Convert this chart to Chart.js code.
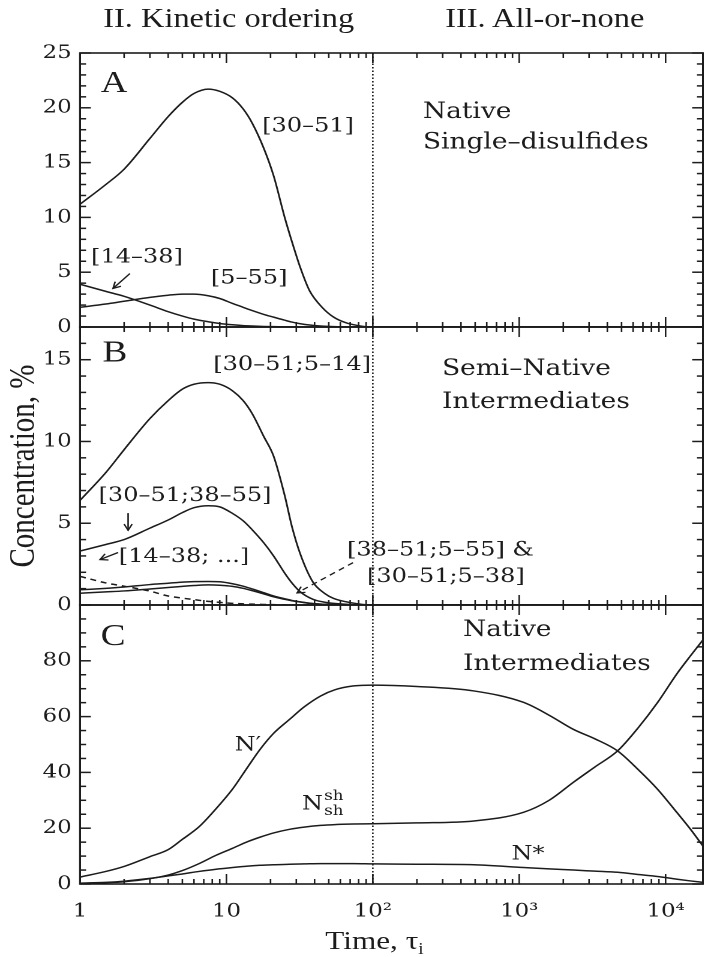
<!DOCTYPE html>
<html>
<head>
<meta charset="utf-8">
<script src="https://cdn.jsdelivr.net/npm/chart.js@4.4.1/dist/chart.umd.min.js"></script>
<style>
  html, body { margin: 0; padding: 0; background: #fff; overflow: hidden; }
  /* the figure is set in a wide face: draw narrow, then stretch horizontally */
  #figure { position: absolute; left: 0; top: 0; width: 587px; height: 957px;
            transform: scaleX(1.2); transform-origin: 0 0;
            font-family: "Liberation Serif", serif; color: #1c1c1c; }
  canvas { position: absolute; left: 0; }
  .head { position: absolute; top: 5px; font-size: 27px; line-height: 27px; white-space: nowrap; }
  #ytitle { position: absolute; left: 19px; top: 466px; font-size: 29px; line-height: 29px;
            white-space: nowrap; transform: translate(-50%, -50%) rotate(-90deg); }
  #xtitle { position: absolute; left: 312px; top: 928px; font-size: 26px; line-height: 26px;
            white-space: nowrap; transform: translateX(-50%); }
  #xtitle span { font-size: 16px; position: relative; top: 5px; }
</style>
</head>
<body>
<div id="figure">
  <div class="head" style="left:86px">II. Kinetic ordering</div>
  <div class="head" style="left:371px">III. All-or-none</div>
  <div id="ytitle">Concentration, %</div>
  <div id="xtitle">Time, τ<span>i</span></div>
  <canvas id="panelA" width="587" height="300" style="top:40px"></canvas>
  <canvas id="panelB" width="587" height="292" style="top:320px"></canvas>
  <canvas id="panelC" width="587" height="340" style="top:598px"></canvas>
</div>

<script>
// time axis (units of tau_i), shared by all three panels
const T_MIN = 1;
const T_MAX = 18000;
const T_MARK = 100;   // boundary between the two regimes

// panel A: native single-disulfide species
const timeA = [1, 1.5, 2, 3, 4, 5, 6, 7.5, 9, 11, 13, 15, 18, 21, 25, 28, 32, 37, 45, 54, 65, 80, 100, 200, 1000, 18000];
const a30_51 = [11.2, 13.0, 14.4, 17.2, 19.2, 20.5, 21.3, 21.7, 21.5, 20.9, 19.9, 18.6, 16.3, 13.8, 10.0, 7.8, 5.4, 3.3, 1.8, 0.9, 0.4, 0.12, 0, 0, 0, 0];
const a14_38 = [3.9, 3.25, 2.8, 2.0, 1.4, 1.0, 0.72, 0.48, 0.32, 0.2, 0.13, 0.09, 0.05, 0.03, 0.01, 0, 0, 0, 0, 0, 0, 0, 0, 0, 0, 0];
const a5_55 = [1.8, 2.1, 2.35, 2.7, 2.9, 3.0, 3.0, 2.85, 2.6, 2.15, 1.8, 1.5, 1.15, 0.9, 0.62, 0.45, 0.3, 0.18, 0.08, 0.03, 0.01, 0, 0, 0, 0, 0];

// panel B: semi-native two-disulfide intermediates
const timeB = [1, 1.5, 2, 3, 4, 5, 6, 7.5, 9, 11, 13, 15, 18, 21, 25, 28, 32, 39, 47, 54, 70, 100, 200, 1000, 18000];
const b30_51_5_14 = [6.4, 8.1, 9.5, 11.4, 12.5, 13.2, 13.5, 13.6, 13.5, 13.1, 12.5, 11.7, 10.3, 9.1, 6.7, 4.8, 3.1, 1.4, 0.7, 0.4, 0.15, 0, 0, 0, 0];
const b30_51_38_55 = [3.3, 3.7, 4.0, 4.7, 5.2, 5.65, 5.95, 6.07, 6.0, 5.6, 5.15, 4.6, 3.8, 3.0, 1.95, 1.35, 0.8, 0.35, 0.17, 0.1, 0.03, 0, 0, 0, 0];
const b38_51_5_55 = [0.93, 1.02, 1.1, 1.25, 1.33, 1.4, 1.43, 1.44, 1.42, 1.3, 1.15, 0.98, 0.75, 0.55, 0.38, 0.28, 0.19, 0.09, 0.04, 0.02, 0, 0, 0, 0, 0];
const b30_51_5_38 = [0.72, 0.8, 0.86, 0.98, 1.07, 1.14, 1.19, 1.23, 1.21, 1.14, 1.02, 0.88, 0.68, 0.5, 0.35, 0.26, 0.18, 0.08, 0.04, 0.02, 0, 0, 0, 0, 0];
const b14_38_any = [1.75, 1.35, 1.15, 0.85, 0.55, 0.42, 0.33, 0.22, 0.16, 0.1, 0.07, 0.05, 0.03, 0.02, 0.01, 0, 0, 0, 0, 0, 0, 0, 0, 0, 0];

// panel C: native-like intermediates
const timeC = [1, 1.5, 2, 3, 4, 5, 6.5, 8.5, 11, 14, 17, 21, 27, 34, 44, 55, 74, 100, 200, 490, 1070, 1600, 2350, 3300, 4700, 6500, 8800, 12000, 14800, 18000];
const cNprime = [2.5, 4.5, 6.3, 9.8, 12.3, 16, 20.5, 27, 34, 42, 48.3, 54, 59, 63.5, 67.4, 69.6, 71, 71.3, 70.8, 69.2, 65.1, 60.5, 55.4, 52, 47.7, 41, 34, 25.5, 19.6, 13.6];
const cNshsh = [0.2, 0.45, 0.8, 1.9, 3.2, 4.8, 7.3, 10.3, 12.8, 15.2, 16.8, 18.3, 19.6, 20.4, 21.0, 21.3, 21.5, 21.6, 21.9, 22.6, 25.7, 30, 36.5, 42, 47.7, 56, 65, 75.5, 81.8, 87.5];
const cNstar = [0.3, 0.6, 1.0, 2.0, 2.9, 3.6, 4.5, 5.3, 5.9, 6.4, 6.7, 6.9, 7.1, 7.2, 7.3, 7.3, 7.3, 7.2, 7.1, 6.9, 5.9, 5.4, 5.0, 4.6, 4.2, 3.4, 2.7, 1.7, 1.1, 0.6];

const INK = '#1c1c1c';
const SERIF = '"DejaVu Serif", "Liberation Serif", serif';
const TICK_FONT = { family: SERIF, size: 19 };
const NOTE_FONT = '20px ' + SERIF;     // bracketed species labels
const WORD_FONT = '22px ' + SERIF;     // panel captions
const TAG_FONT = '31px "Liberation Serif", serif';
const AXIS_LEFT = 66.7;                // width reserved for the y labels

// border box, inward ticks on all four sides, dotted regime marker
function framePlugin(yMajor, yMinor) {
  return {
    id: 'frame',
    afterDraw(chart) {
      const ctx = chart.ctx;
      const a = chart.chartArea;
      const x = chart.scales.x, y = chart.scales.y;
      const seg = (x1, y1, x2, y2) => { ctx.beginPath(); ctx.moveTo(x1, y1); ctx.lineTo(x2, y2); ctx.stroke(); };
      ctx.save();
      ctx.setLineDash([]);
      ctx.strokeStyle = INK;
      ctx.lineWidth = 1.6;
      ctx.strokeRect(a.left, a.top, a.right - a.left, a.bottom - a.top);
      ctx.lineWidth = 1.5;
      const nY = Math.round((y.max - y.min) / yMinor);
      for (let k = 0; k <= nY; k++) {
        const v = y.min + k * yMinor;
        const py = y.getPixelForValue(v);
        const len = (k * yMinor) % yMajor === 0 ? 9 : 5;
        seg(a.left, py, a.left + len, py);
        seg(a.right, py, a.right - len, py);
      }
      ctx.lineWidth = 1.3;
      for (let d = 0; d <= 4; d++) {
        for (let m = 1; m <= 9; m++) {
          const v = m * Math.pow(10, d);
          if (v > T_MAX) break;
          const px = x.getPixelForValue(v);
          const len = m === 1 ? 10 : 5;
          seg(px, a.bottom, px, a.bottom - len);
          seg(px, a.top, px, a.top + len);
        }
      }
      const xm = x.getPixelForValue(T_MARK);
      ctx.setLineDash([1.5, 2]);
      seg(xm, a.top, xm, a.bottom);
      ctx.restore();
    }
  };
}

// curve labels and pointer arrows, placed in data coordinates
function notesPlugin(notes) {
  return {
    id: 'notes',
    afterDatasetsDraw(chart) {
      const { ctx, scales: { x, y } } = chart;
      ctx.save();
      ctx.fillStyle = INK;
      ctx.strokeStyle = INK;
      ctx.textBaseline = 'middle';
      (notes.texts || []).forEach(n => {
        const px = x.getPixelForValue(n.t), py = y.getPixelForValue(n.v);
        ctx.font = n.font || NOTE_FONT;
        ctx.textAlign = n.align || 'center';
        ctx.fillText(n.text, px, py);
        if (n.sup) {
          const w = ctx.measureText(n.text).width;
          ctx.font = '14px ' + SERIF;
          ctx.textAlign = 'left';
          ctx.fillText(n.sup, px + w + 1, py - 8);
          ctx.fillText(n.sub, px + w + 1, py + 7);
        }
      });
      (notes.arrows || []).forEach(ar => {
        const x1 = x.getPixelForValue(ar.from[0]), y1 = y.getPixelForValue(ar.from[1]);
        const x2 = x.getPixelForValue(ar.to[0]), y2 = y.getPixelForValue(ar.to[1]);
        ctx.lineWidth = 1.3;
        ctx.setLineDash(ar.dash ? [5, 4] : []);
        ctx.beginPath(); ctx.moveTo(x1, y1); ctx.lineTo(x2, y2); ctx.stroke();
        ctx.setLineDash([]);
        const ang = Math.atan2(y2 - y1, x2 - x1);
        ctx.beginPath();
        ctx.moveTo(x2 - 7 * Math.cos(ang - 0.5), y2 - 7 * Math.sin(ang - 0.5));
        ctx.lineTo(x2, y2);
        ctx.lineTo(x2 - 7 * Math.cos(ang + 0.5), y2 - 7 * Math.sin(ang + 0.5));
        ctx.stroke();
      });
      ctx.restore();
    }
  };
}

function makePanel(id, cfg) {
  return new Chart(document.getElementById(id), {
    type: 'line',
    data: {
      datasets: cfg.series.map(s => ({
        data: s.times.map((t, i) => ({ x: t, y: s.values[i] })),
        borderColor: INK,
        borderWidth: 1.5,
        borderDash: s.dash || [],
        pointRadius: 0,
        cubicInterpolationMode: 'monotone',
        fill: false
      }))
    },
    options: {
      responsive: false,
      animation: false,
      devicePixelRatio: 2,
      layout: { padding: cfg.padding },
      plugins: { legend: { display: false }, tooltip: { enabled: false } },
      scales: {
        x: {
          type: 'logarithmic',
          min: T_MIN,
          max: T_MAX,
          display: cfg.showX,
          grid: { display: false, drawTicks: false },
          border: { display: false },
          ticks: {
            autoSkip: false,
            maxRotation: 0,
            padding: 16,
            color: INK,
            font: TICK_FONT,
            callback: (v) => {
              const e = Math.log10(v);
              if (Math.abs(e - Math.round(e)) > 1e-9) return '';
              return ['1', '10', '10²', '10³', '10⁴'][Math.round(e)];
            }
          },
          afterFit: (s) => {
            s.paddingLeft = 0;
            s.paddingRight = 0;
            if (cfg.showX) s.height = 54;
          }
        },
        y: {
          min: 0,
          max: cfg.yMax,
          grid: { display: false, drawTicks: false },
          border: { display: false },
          ticks: {
            stepSize: cfg.yMajor,
            includeBounds: false,
            autoSkip: false,
            padding: 7,
            color: INK,
            font: TICK_FONT,
            callback: (v) => (v <= cfg.yLabelMax ? String(v) : '')
          },
          afterFit: (s) => {
            s.width = AXIS_LEFT;
            s.paddingTop = 0;
            s.paddingBottom = 0;
          }
        }
      }
    },
    plugins: [framePlugin(cfg.yMajor, cfg.yMinor), notesPlugin(cfg.notes)]
  });
}

makePanel('panelA', {
  padding: { top: 13, bottom: 13, left: 0, right: 1.2 },
  showX: false, yMax: 25, yMajor: 5, yMinor: 1, yLabelMax: 25,
  series: [
    { times: timeA, values: a30_51 },
    { times: timeA, values: a14_38 },
    { times: timeA, values: a5_55 }
  ],
  notes: {
    texts: [
      { text: 'A', t: 1.71, v: 22.2, font: TAG_FONT },
      { text: '[30–51]', t: 36.1, v: 18.3 },
      { text: '[14–38]', t: 2.45, v: 6.34 },
      { text: '[5–55]', t: 14.3, v: 4.43 },
      { text: 'Native', t: 220, v: 19.6, align: 'left', font: WORD_FONT },
      { text: 'Single–disulfides', t: 220, v: 16.8, align: 'left', font: WORD_FONT }
    ],
    arrows: [{ from: [2.19, 4.88], to: [1.68, 3.52] }]
  }
});

makePanel('panelB', {
  padding: { top: 7, bottom: 7, left: 0, right: 1.2 },
  showX: false, yMax: 17, yMajor: 5, yMinor: 1, yLabelMax: 15,
  series: [
    { times: timeB, values: b30_51_5_14 },
    { times: timeB, values: b30_51_38_55 },
    { times: timeB, values: b38_51_5_55 },
    { times: timeB, values: b30_51_5_38 },
    { times: timeB, values: b14_38_any, dash: [5, 4] }
  ],
  notes: {
    texts: [
      { text: 'B', t: 1.73, v: 15.4, font: TAG_FONT },
      { text: '[30–51;5–14]', t: 28.1, v: 14.7 },
      { text: 'Semi–Native', t: 297, v: 14.4, align: 'left', font: WORD_FONT },
      { text: 'Intermediates', t: 297, v: 12.4, align: 'left', font: WORD_FONT },
      { text: '[30–51;38–55]', t: 5.21, v: 6.67 },
      { text: '[14–38; ...]', t: 5.13, v: 2.96 },
      { text: '[38–51;5–55] &', t: 66.7, v: 3.33, align: 'left' },
      { text: '[30–51;5–38]', t: 91.3, v: 1.73, align: 'left' }
    ],
    arrows: [
      { from: [2.13, 5.62], to: [2.13, 4.57] },
      { from: [1.82, 3.21], to: [1.37, 2.78] },
      { from: [73.2, 2.59], to: [30.4, 0.74], dash: true }
    ]
  }
});

makePanel('panelC', {
  padding: { top: 7, bottom: 0, left: 0, right: 1.2 },
  showX: true, yMax: 100, yMajor: 20, yMinor: 5, yLabelMax: 80,
  series: [
    { times: timeC, values: cNprime },
    { times: timeC, values: cNshsh },
    { times: timeC, values: cNstar }
  ],
  notes: {
    texts: [
      { text: 'C', t: 1.68, v: 88.5, font: TAG_FONT },
      { text: 'N′', t: 14.0, v: 49.7 },
      { text: 'N', t: 32.8, v: 28.6, align: 'left', sup: 'sh', sub: 'sh' },
      { text: 'Native', t: 413, v: 91, align: 'left', font: WORD_FONT },
      { text: 'Intermediates', t: 413, v: 78.8, align: 'left', font: WORD_FONT },
      { text: 'N*', t: 1148, v: 10.7 }
    ]
  }
});
</script>
</body>
</html>
